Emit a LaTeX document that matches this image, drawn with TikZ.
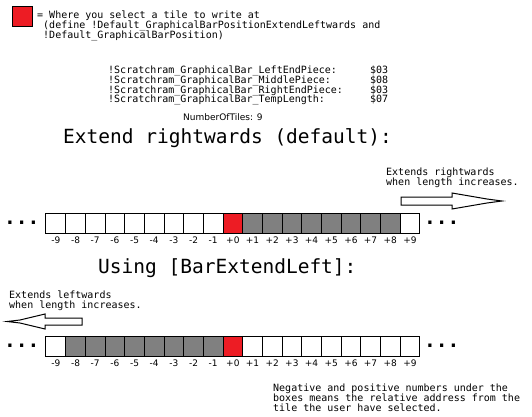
\documentclass[tikz,border=0pt]{standalone}
\usepackage{fontspec}
\setmonofont{DejaVu Sans Mono}
\setsansfont{DejaVu Sans}
\usetikzlibrary{arrows}
\definecolor{selred}{RGB}{237,28,36}
\definecolor{barfill}{RGB}{128,128,128}

\begin{document}
\begin{tikzpicture}[x=1pt,y=-1pt]

	\tikzstyle tile=[draw,line width=1pt,minimum width=19.67pt,minimum height=20pt,inner sep=0pt,outer sep=0pt];
	\tikzstyle small=[font=\ttfamily\fontsize{10}{10}\selectfont,anchor=base west,inner sep=0pt];
	\tikzstyle big=[font=\ttfamily\fontsize{19.5}{20}\selectfont,anchor=base west,inner sep=0pt];
	\tikzstyle dots=[font=\ttfamily\bfseries\fontsize{19.5}{20}\selectfont,anchor=base west,inner sep=0pt];
	\tikzstyle num=[font=\sffamily\fontsize{9}{9}\selectfont,anchor=base,inner sep=0pt];
	\tikzstyle hollow arrow=[draw,line width=1pt,fill=white,line join=miter];

	\useasboundingbox (0,0) rectangle (532,417);

	% key
	\node[tile,fill=selred,minimum width=20pt] (key) at (22,17) {};
	\node[small] (key1) at (37,18.5) {= Where you select a tile to write at};
	\node[small] (key2) at (37,28.5) {\phantom{=}(define !Default\_GraphicalBarPositionExtendLeftwards and};
	\node[small] (key3) at (37,38.5) {\phantom{=}!Default\_GraphicalBarPosition)};

	% ram values
	\foreach \name/\val [count=\k] in {LeftEndPiece/03,MiddlePiece/08,RightEndPiece/03,TempLength/07} {
		\node[small] (var\k) at (108,{64.4+\k*9.6}) {!Scratchram\_GraphicalBar\_\name:};
		\node[small] (val\k) at (370,{64.4+\k*9.6}) {\$\val};
	}
	\node[num,anchor=base west,font=\sffamily\fontsize{9}{9}\selectfont] (tiles) at (183,121) {NumberOfTiles: 9};

	% default bar
	\node[big] (title1) at (63,143) {Extend rightwards (default):};
	\node[small] (ext1a) at (386,175) {Extends rightwards};
	\node[small] (ext1b) at (386,185) {when length increases.};
	\draw[hollow arrow] (401,197) -- (452,197) -- (452,193) -- (487,199) -- (502,201)
		-- (487,203) -- (452,209) -- (452,205) -- (401,205) -- cycle;

	\foreach \n in {0,...,18} {
		\pgfmathtruncatemacro\v{\n-9}
		\ifnum\v=0 \def\tilecol{selred}\else\ifnum\v>8 \def\tilecol{white}\else\ifnum\v>0 \def\tilecol{barfill}\else\def\tilecol{white}\fi\fi\fi
		\node[tile,fill=\tilecol] (r\n) at ({55.83+\n*19.67},223) {};
		\node[num] (rl\n) at ({55.83+\n*19.67},243) {\ifnum\v<0 \v\else+\v\fi};
	}
	\node[dots] (rdotsl) at (4,224) {...};
	\node[dots] (rdotsr) at (424,224) {...};

	% BarExtendLeft
	\node[big] (title2) at (98,273) {Using [BarExtendLeft]:};
	\node[small] (ext2a) at (9,298) {Extends leftwards};
	\node[small] (ext2b) at (9,308) {when length increases.};
	\draw[hollow arrow] (82,318) -- (45,318) -- (45,314) -- (20,320) -- (7,321.5)
		-- (20,323) -- (45,329) -- (45,325) -- (82,325) -- cycle;

	\foreach \n in {0,...,18} {
		\pgfmathtruncatemacro\v{\n-9}
		\ifnum\v=0 \def\tilecol{selred}\else\ifnum\v<-8 \def\tilecol{white}\else\ifnum\v<0 \def\tilecol{barfill}\else\def\tilecol{white}\fi\fi\fi
		\node[tile,fill=\tilecol] (l\n) at ({55.83+\n*19.67},346) {};
		\node[num] (ll\n) at ({55.83+\n*19.67},366) {\ifnum\v<0 \v\else+\v\fi};
	}
	\node[dots] (ldotsl) at (4,347.5) {...};
	\node[dots] (ldotsr) at (424,347.5) {...};

	% note
	\node[small] (note1) at (273,391.5) {Negative and positive numbers under the};
	\node[small] (note2) at (273,401.5) {boxes means the relative address from the};
	\node[small] (note3) at (273,411) {tile the user have selected.};

\end{tikzpicture}
\end{document}
